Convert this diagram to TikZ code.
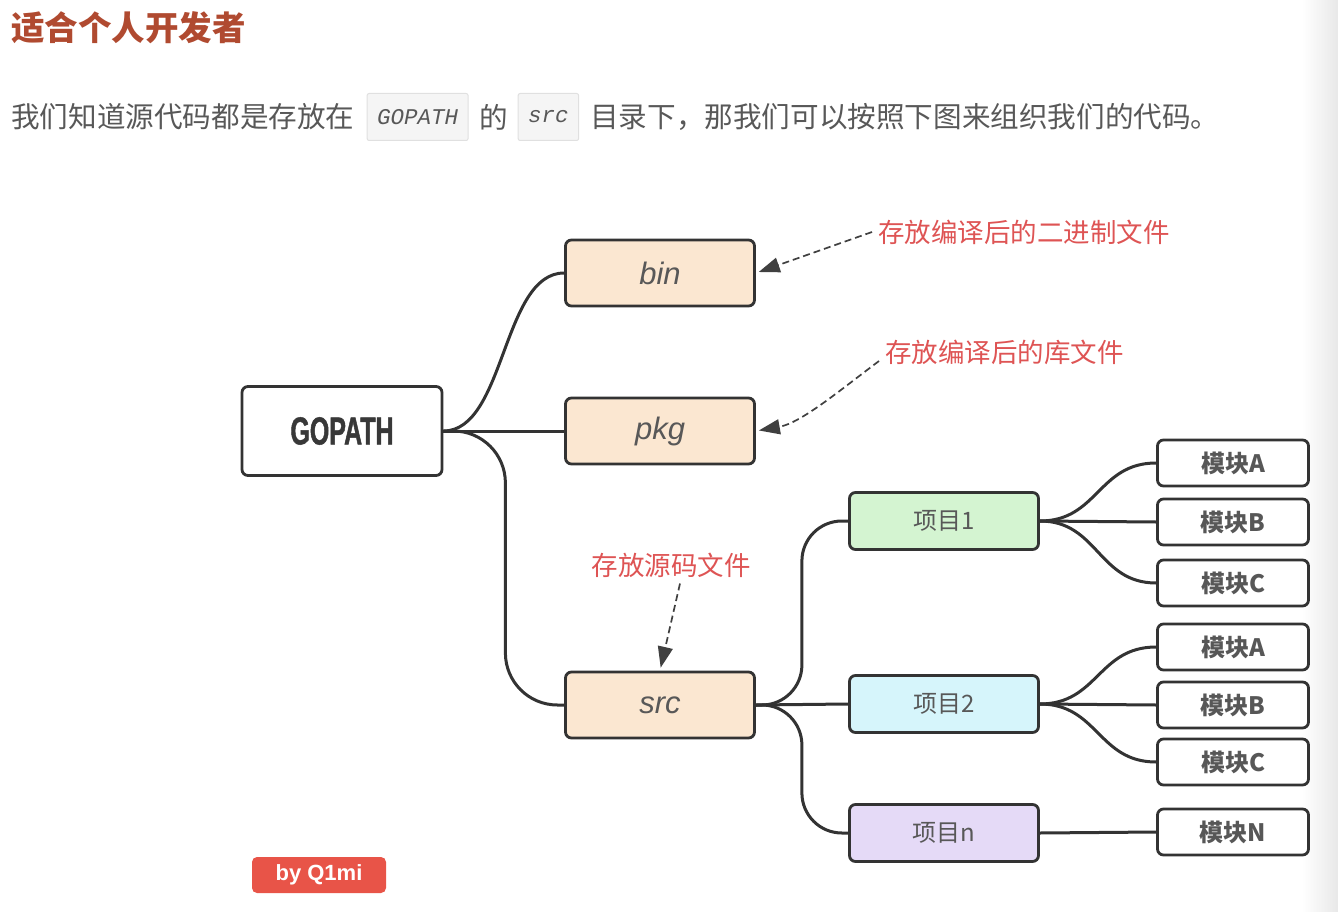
\documentclass[tikz,border=0pt]{standalone}
\usepackage{fontspec}
\setmainfont{Noto Sans CJK SC}
\newfontfamily\latinsans{Liberation Sans}
\newfontfamily\codefont{Liberation Mono}
\newfontfamily\condfont[FakeStretch=0.64,FakeBold=1.2]{Liberation Sans}
\usepackage{tikz}
\usetikzlibrary{positioning,arrows.meta,calc}
\definecolor{titleC}{RGB}{176,74,48}
\definecolor{bodyC}{RGB}{88,88,88}
\definecolor{lineC}{RGB}{51,51,51}
\definecolor{noteC}{RGB}{222,84,84}
\definecolor{dirC}{RGB}{251,231,209}
\definecolor{projA}{RGB}{212,244,209}
\definecolor{projB}{RGB}{214,245,251}
\definecolor{projN}{RGB}{229,218,247}
\definecolor{badgeC}{RGB}{232,84,72}
\tikzset{
  titletext/.style={inner sep=0pt, text=titleC, font=\bfseries\fontsize{33.5}{33.5}\selectfont},
  bodytext/.style={inner sep=0pt, text=bodyC, font=\fontsize{28.6}{28.6}\selectfont},
  codebox/.style={draw=black!12, fill=black!4, line width=1pt, rounded corners=2pt,
                  minimum height=47pt, inner xsep=10pt, text=bodyC,
                  font=\codefont\itshape\fontsize{22.5}{22.5}\selectfont},
  rootbox/.style={draw=lineC, fill=white, line width=2.8pt, rounded corners=6pt,
                  minimum width=200pt, minimum height=89pt, text=black!78,
                  font=\condfont\bfseries\fontsize{39}{39}\selectfont},
  dirbox/.style={draw=lineC, fill=dirC, line width=2.8pt, rounded corners=6pt,
                 minimum width=189pt, minimum height=66pt, text=bodyC,
                 font=\latinsans\itshape\fontsize{31}{31}\selectfont},
  projbox/.style={draw=lineC, line width=2.8pt, rounded corners=6pt,
                  minimum width=189pt, minimum height=57pt, text=bodyC,
                  font=\fontsize{24}{24}\selectfont},
  modbox/.style={draw=lineC, fill=white, line width=2.8pt, rounded corners=6pt,
                 minimum width=151pt, minimum height=46pt, text=black!66,
                 font=\bfseries\fontsize{24}{24}\selectfont},
  branch/.style={draw=lineC, line width=3pt},
  notetext/.style={inner sep=6pt, text=noteC, font=\fontsize{26.5}{26.5}\selectfont},
  note/.style={draw=black!75, line width=1.7pt, dash pattern=on 7pt off 4pt,
               -{Triangle[length=21pt,width=15pt]}, shorten >=3pt},
  badge/.style={fill=badgeC, rounded corners=5pt, minimum width=134pt,
                minimum height=36pt, text=white,
                font=\latinsans\bfseries\fontsize{22}{22}\selectfont},
}
\begin{document}
\begin{tikzpicture}[x=1pt,y=-1pt]
  \useasboundingbox (0,0) rectangle (1338,912);
  \shade[left color=white, right color=black!9] (1302,0) rectangle (1338,912);

  % heading and intro line
  \node[titletext, anchor=west] (title) at (11,28) {适合个人开发者};
  \node[bodytext, anchor=west] (introa) at (11,117) {我们知道源代码都是存放在};
  \node[codebox, right=12pt of introa] (gopathcode) {GOPATH};
  \node[bodytext, right=11pt of gopathcode] (introb) {的};
  \node[codebox, right=9pt of introb] (srccode) {src};
  \node[bodytext, right=11pt of srccode] (introc) {目录下，那我们可以按照下图来组织我们的代码。};

  % tree
  \node[rootbox] (gopath) at (342,431) {GOPATH};
  \node[dirbox] (bin) at (660,273) {bin};
  \node[dirbox] (pkg) at (660,431) {pkg};
  \node[dirbox] (src) at (660,705) {src};

  \node[projbox, fill=projA] (proja) at (944,521) {项目1};
  \node[projbox, fill=projB] (projb) at (944,704) {项目2};
  \node[projbox, fill=projN] (projn) at (944,833) {项目n};

  \foreach \name/\y/\txt in {moda1/463/模块A, modb1/522/模块B, modc1/583/模块C,
                             moda2/647/模块A, modb2/705/模块B, modc2/762/模块C,
                             modn/832/模块N}
    \node[modbox] (\name) at (1233,\y) {\txt};

  \draw[branch] (gopath.east) .. controls +(62,0) and +(-62,0) .. (bin.west);
  \draw[branch] (gopath.east) -- (pkg.west);
  \draw[branch, rounded corners=52pt] (gopath.east) -- ++(62,0) |- (src.west);

  \draw[branch, rounded corners=40pt] (src.east) -- ++(46,0) |- (proja.west);
  \draw[branch] (src.east) -- (projb.west);
  \draw[branch, rounded corners=40pt] (src.east) -- ++(46,0) |- (projn.west);

  \foreach \p/\m in {proja/moda1, proja/modb1, proja/modc1,
                     projb/moda2, projb/modb2, projb/modc2, projn/modn}
    \draw[branch] (\p.east) .. controls +(58,0) and +(-58,0) .. (\m.west);

  % notes
  \node[notetext, anchor=west] (binnote) at (872,232) {存放编译后的二进制文件};
  \node[notetext, anchor=west] (pkgnote) at (879,352) {存放编译后的库文件};
  \node[notetext] (srcnote) at (671,565) {存放源码文件};
  \draw[note] (binnote.west) -- (bin.east);
  \draw[note] ([yshift=-9pt]pkgnote.west) .. controls +(-40,30) and +(45,-8) .. (pkg.east);
  \draw[note] ([xshift=9pt]srcnote.south) -- (src.north);

  \node[badge] (byline) at (319,875) {by Q1mi};
\end{tikzpicture}
\end{document}
